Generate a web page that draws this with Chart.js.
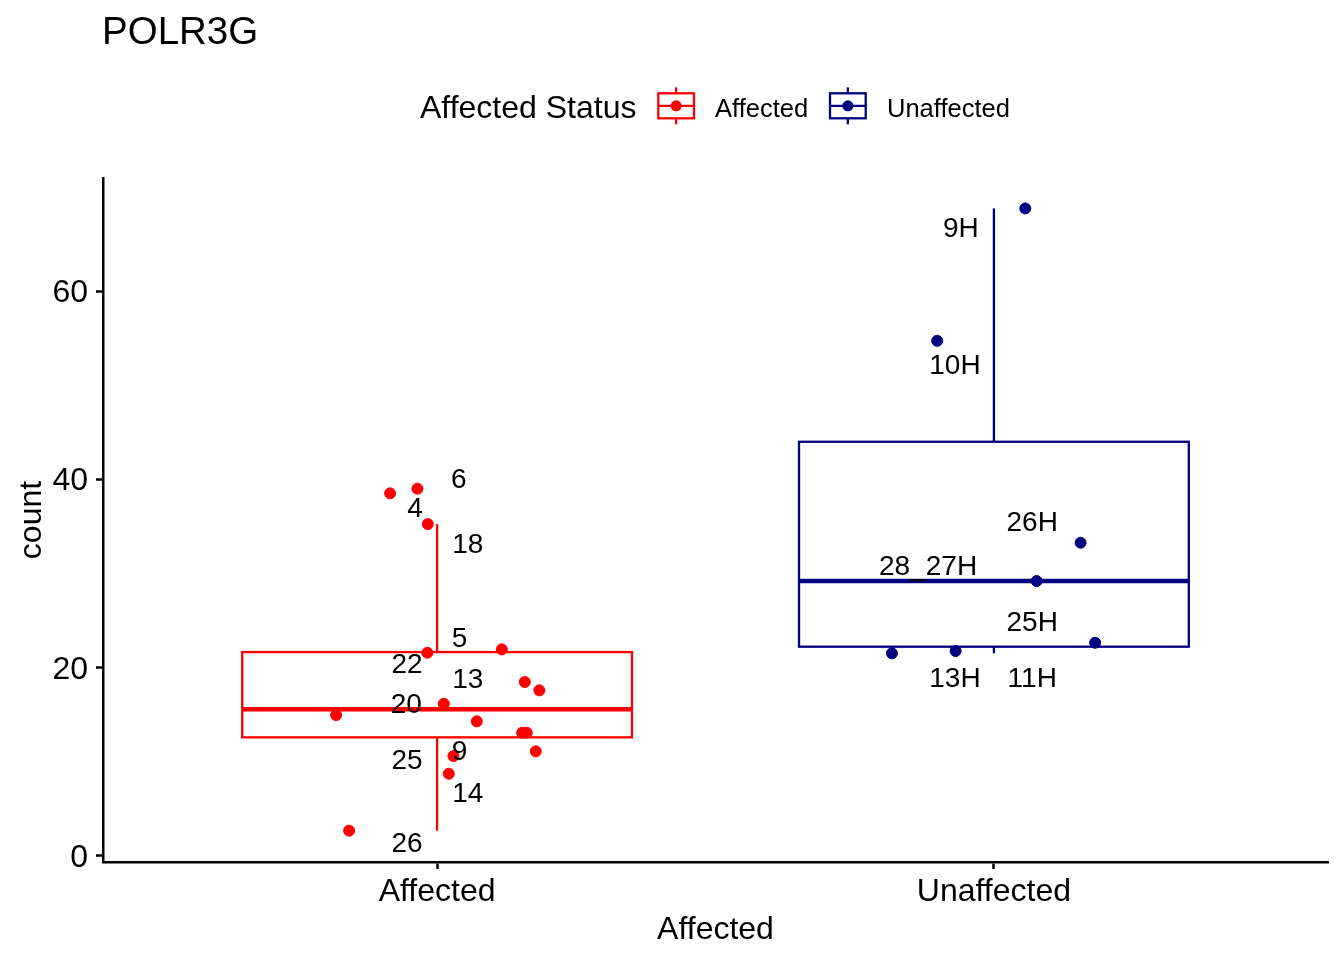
<!DOCTYPE html>
<html><head><meta charset="utf-8">
<script src="https://cdn.jsdelivr.net/npm/chart.js@4/dist/chart.umd.min.js"></script>
<style>html,body{margin:0;padding:0;background:#fff;overflow:hidden}#wrap{width:1344px;height:960px;position:relative}</style>
</head><body><div id="wrap"><canvas id="c" width="1344" height="960"></canvas></div>
<script>
// ---- data ----
const chartTitle = "POLR3G";
const categories = ["Affected", "Unaffected"];
const legendTitle = "Affected Status";
const xAxisTitle = "Affected";
const yAxisTitle = "count";
const yTicks = [0, 20, 40, 60];
const groupColors = ["#FF0000", "#000080"];

// box-plot statistics per category
const boxLow    = [2.69, 21.54];
const boxQ1     = [12.61, 22.24];
const boxMedian = [15.59, 29.22];
const boxQ3     = [21.67, 44.02];
const boxHigh   = [35.27, 68.82];

// jittered points (x = category position + jitter)
const affectedX = [0.9156, 0.9646, 0.9833, 0.9826, 1.1162, 1.1575, 1.1837, 1.0120, 0.8186, 1.0713, 1.1527, 1.1610, 1.1772, 1.0293, 1.0210, 0.8420];
const affectedY = [38.54, 39.03, 35.27, 21.60, 21.96, 18.49, 17.60, 16.18, 14.98, 14.31, 13.10, 13.10, 11.12, 10.62, 8.74, 2.69];
const unaffectedX = [2.0563, 1.8981, 2.1557, 2.0767, 2.1818, 1.8168, 1.9312];
const unaffectedY = [68.82, 54.75, 33.29, 29.22, 22.66, 21.54, 21.78];

// sample labels (repelled positions)
const affectedLabels = ["6", "4", "18", "5", "22", "13", "20", "9", "25", "14", "26"];
const affectedLabelX = [1.0388, 0.9605, 1.0551, 1.0401, 0.9460, 1.0551, 0.9447, 1.0401, 0.9460, 1.0551, 0.9460];
const affectedLabelY = [40.13, 37.03, 33.28, 23.29, 20.47, 18.88, 16.23, 11.26, 10.31, 6.77, 1.41];
const unaffectedLabels = ["9H", "10H", "26H", "28_27H", "25H", "13H", "11H"];
const unaffectedLabelX = [1.9408, 1.9300, 2.0688, 1.8818, 2.0688, 1.9300, 2.0688];
const unaffectedLabelY = [66.80, 52.27, 35.52, 30.92, 24.89, 19.0, 19.0];

// ---- styles ----
const FONT = "'Liberation Sans', Arial, Helvetica, sans-serif";
const BOX_HALF = 0.35;

function pts(xs, ys) { return xs.map((v, i) => ({ x: v, y: ys[i] })); }

const datasets = [
  { label: categories[0], data: pts(affectedX, affectedY), backgroundColor: groupColors[0], borderColor: groupColors[0], pointRadius: 5.5, pointBorderWidth: 1, pointHoverRadius: 5.5 },
  { label: categories[1], data: pts(unaffectedX, unaffectedY), backgroundColor: groupColors[1], borderColor: groupColors[1], pointRadius: 5.5, pointBorderWidth: 1, pointHoverRadius: 5.5 },
  { label: 'lab1', isLabelSet: true, texts: affectedLabels, data: pts(affectedLabelX, affectedLabelY), pointRadius: 0, pointHoverRadius: 0, clip: false },
  { label: 'lab2', isLabelSet: true, texts: unaffectedLabels, data: pts(unaffectedLabelX, unaffectedLabelY), pointRadius: 0, pointHoverRadius: 0, clip: false }
];

function line(ctx, x1, y1, x2, y2) { ctx.beginPath(); ctx.moveTo(x1, y1); ctx.lineTo(x2, y2); ctx.stroke(); }

const boxPlugin = {
  id: 'boxes',
  beforeDatasetsDraw(chart) {
    const { ctx, scales: { x, y } } = chart;
    categories.forEach((cat, i) => {
      const cx = x.getPixelForValue(i + 1);
      const xl = x.getPixelForValue(i + 1 - BOX_HALF);
      const xr = x.getPixelForValue(i + 1 + BOX_HALF);
      const yLo = y.getPixelForValue(boxLow[i]);
      const yQ1 = y.getPixelForValue(boxQ1[i]);
      const yMed = y.getPixelForValue(boxMedian[i]);
      const yQ3 = y.getPixelForValue(boxQ3[i]);
      const yHi = y.getPixelForValue(boxHigh[i]);
      ctx.save();
      ctx.strokeStyle = groupColors[i];
      ctx.lineWidth = 2.3;
      line(ctx, cx, yHi, cx, yQ3);
      line(ctx, cx, yQ1, cx, yLo);
      ctx.strokeRect(xl, yQ3, xr - xl, yQ1 - yQ3);
      ctx.lineWidth = 4.5;
      line(ctx, xl, yMed, xr, yMed);
      ctx.restore();
    });
  },
  afterDatasetsDraw(chart) {
    const { ctx } = chart;
    ctx.save();
    ctx.fillStyle = '#000';
    ctx.font = `28px ${FONT}`;
    ctx.textAlign = 'center';
    ctx.textBaseline = 'middle';
    chart.data.datasets.forEach((ds, di) => {
      if (!ds.isLabelSet) return;
      const meta = chart.getDatasetMeta(di);
      meta.data.forEach((el, j) => ctx.fillText(ds.texts[j], el.x, el.y + 2));
    });
    ctx.restore();
  },
  afterDraw(chart) {
    const { ctx, chartArea } = chart;
    ctx.save();
    ctx.fillStyle = '#000';
    // title
    ctx.font = `38.5px ${FONT}`;
    ctx.textAlign = 'left';
    ctx.textBaseline = 'alphabetic';
    ctx.fillText(chartTitle, 102, 44);
    // axis titles
    ctx.font = `32px ${FONT}`;
    ctx.textAlign = 'center';
    ctx.fillText(xAxisTitle, (chartArea.left + chartArea.right) / 2, 939);
    ctx.save();
    ctx.translate(41, (chartArea.top + chartArea.bottom) / 2);
    ctx.rotate(-Math.PI / 2);
    ctx.fillText(yAxisTitle, 0, 0);
    ctx.restore();
    // legend
    ctx.textAlign = 'left';
    ctx.font = `32px ${FONT}`;
    ctx.fillText(legendTitle, 420, 118);
    const keyX = [658.3, 830];
    const textX = [715, 887];
    categories.forEach((cat, i) => {
      const kx = keyX[i], kw = 35.7, ky = 93.3, kh = 25;
      const cx = kx + kw / 2, cy = ky + kh / 2;
      ctx.strokeStyle = groupColors[i];
      ctx.lineWidth = 2.3;
      line(ctx, cx, 87.3, cx, ky);
      line(ctx, cx, ky + kh, cx, 124.3);
      ctx.strokeRect(kx, ky, kw, kh);
      line(ctx, kx, cy, kx + kw, cy);
      ctx.fillStyle = groupColors[i];
      ctx.beginPath(); ctx.arc(cx, cy, 5.5, 0, Math.PI * 2); ctx.fill();
      ctx.fillStyle = '#000';
      ctx.font = `25.5px ${FONT}`;
      ctx.fillText(cat, textX[i], 117);
    });
    ctx.restore();
  }
};

new Chart(document.getElementById('c'), {
  type: 'scatter',
  data: { datasets },
  options: {
    responsive: false,
    animation: false,
    events: [],
    layout: { padding: { top: 178, right: 16, bottom: 0, left: 0 } },
    plugins: { legend: { display: false }, tooltip: { enabled: false }, title: { display: false } },
    scales: {
      x: {
        type: 'linear', min: 0.4, max: 2.6,
        afterBuildTicks: (s) => { s.ticks = categories.map((c, i) => ({ value: i + 1 })); },
        afterFit: (s) => { s.height = 98; },
        ticks: { autoSkip: false, maxRotation: 0, padding: 4, color: '#000', font: { family: FONT, size: 32, lineHeight: 1.2 },
          callback: (v) => categories[Math.round(v) - 1] },
        grid: { drawOnChartArea: false, drawTicks: true, tickLength: 7, tickWidth: 2.5, tickColor: '#000' },
        border: { display: true, color: '#000', width: 2.5 }
      },
      y: {
        type: 'linear', min: -0.64, max: 72.05,
        afterBuildTicks: (s) => { s.ticks = yTicks.map(v => ({ value: v })); },
        afterFit: (s) => { s.width = 103; },
        ticks: { padding: 8, labelOffset: 2, color: '#000', font: { family: FONT, size: 32, lineHeight: 1.2 } },
        grid: { drawOnChartArea: false, drawTicks: true, tickLength: 7, tickWidth: 2.5, tickColor: '#000' },
        border: { display: true, color: '#000', width: 2.5 }
      }
    }
  },
  plugins: [boxPlugin]
});
</script>
</body></html>
